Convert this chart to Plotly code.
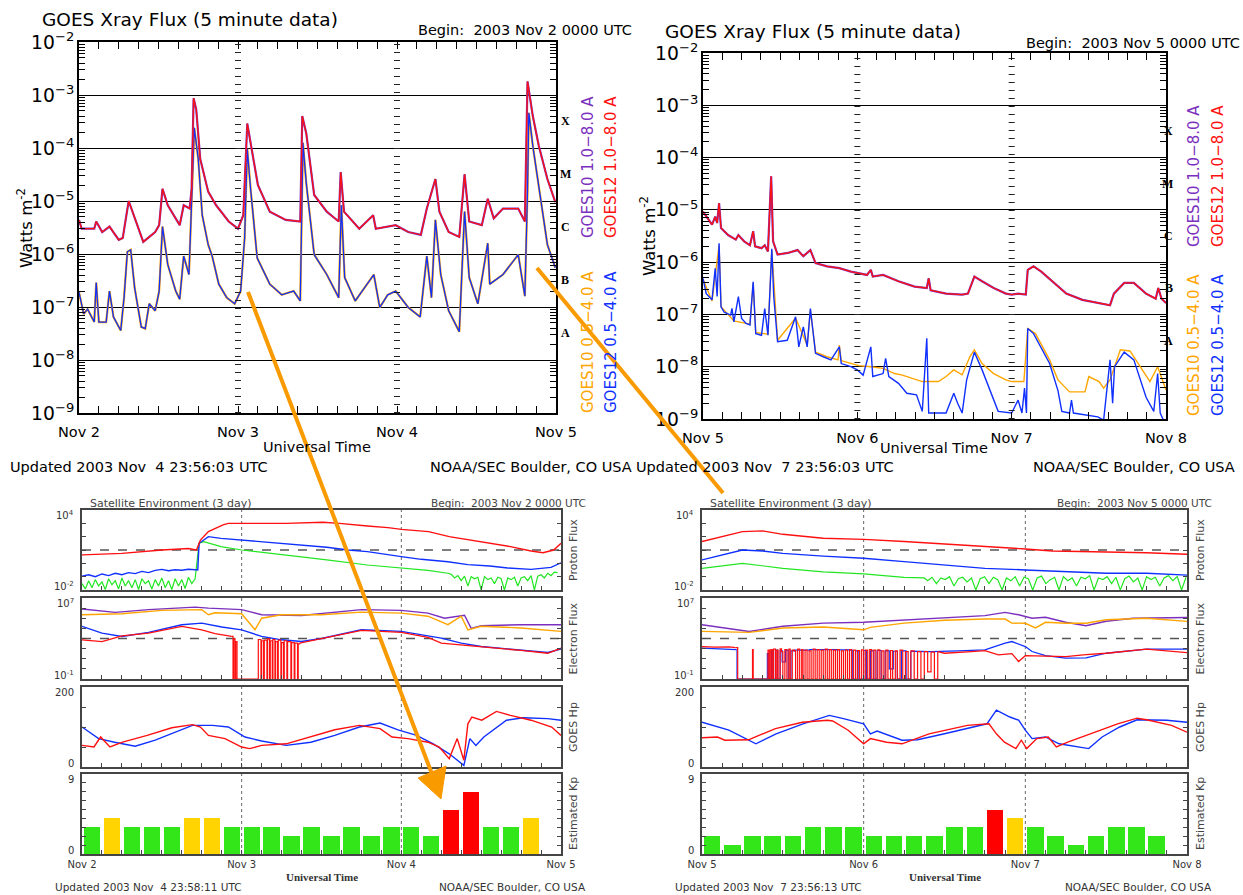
import numpy as np
import plotly.graph_objects as go

W, H = 1243, 895
FONT = "DejaVu Sans"
RED, BLUE, PURPLE, ORANGE, GREEN = "#FF1010", "#1030FF", "#7B2FBE", "#FFA500", "#22E622"
ARROW = "#F89A00"

# ================= GOES X-ray flux (hours since start of 3-day window) =================
# Nov 2-4 2003, long channel 1.0-8.0 A (GOES12; GOES10 overlaps it)
xl_long = [(0, 4.4e-6), (0.4, 3.0e-6), (2.3, 3.0e-6), (2.6, 4.1e-6), (3.5, 2.6e-6), (4.6, 3.3e-6), (6.0, 1.85e-6),
           (6.6, 2.0e-6), (7.5, 1.0e-5), (8.1, 6.3e-6), (9.7, 1.7e-6), (11.5, 2.6e-6), (12.1, 3.5e-6), (12.6, 1.7e-5),
           (13.4, 8.3e-6), (15.2, 3.5e-6), (15.8, 8.3e-6), (16.7, 7.2e-6), (17.0, 1.7e-5), (17.3, 8.7e-4),
           (17.7, 5.3e-4), (18.3, 6.2e-5), (19.5, 1.5e-5), (20.7, 8.3e-6), (22.6, 4.1e-6), (24.0, 3.0e-6),
           (24.8, 5.4e-6), (25.4, 2.9e-4), (26.0, 1.1e-4), (27.0, 2.0e-5), (28.8, 6.3e-6), (31.2, 4.4e-6),
           (33.4, 4.1e-6), (33.7, 4.0e-4), (34.3, 1.9e-4), (35.5, 1.3e-5), (37.4, 6.3e-6), (39.2, 4.1e-6),
           (39.5, 3.5e-5), (40.0, 6.3e-6), (42.3, 3.0e-6), (44.4, 5.4e-6), (44.8, 3.0e-6), (47.8, 3.5e-6),
           (49.7, 2.6e-6), (51.6, 2.3e-6), (52.5, 7.2e-6), (53.8, 2.6e-5), (54.4, 6.3e-6), (55.8, 2.6e-6),
           (57.4, 2.1e-6), (58.2, 3.2e-5), (58.9, 4.1e-6), (60.8, 3.5e-6), (61.7, 1.1e-5), (62.6, 4.7e-6),
           (64.0, 7.2e-6), (66.3, 7.2e-6), (67.3, 4.1e-6), (67.7, 1.8e-3), (68.5, 4.0e-4), (69.4, 1.1e-4),
           (70.7, 2.6e-5), (71.9, 9.5e-6)]
# short channel 0.5-4.0 A (GOES12; GOES10 overlaps it)
xl_short = [(0, 1.9e-7), (0.7, 7.4e-8), (1.3, 9.1e-8), (2.3, 5.2e-8), (2.6, 2.9e-7), (3.0, 5.2e-8), (4.1, 5.2e-8),
            (4.6, 2.0e-7), (5.2, 6.5e-8), (6.3, 3.6e-8), (6.8, 1.5e-7), (7.3, 1.1e-6), (7.8, 1.2e-6), (8.4, 2.3e-7),
            (9.4, 4.2e-8), (10.0, 3.9e-8), (10.6, 1.15e-7), (11.5, 8.5e-8), (12.1, 2.0e-7), (12.6, 3.3e-6),
            (13.4, 6.3e-7), (14.6, 2.0e-7), (15.2, 1.4e-7), (15.8, 9.1e-7), (16.6, 4.1e-7), (17.1, 1.5e-5),
            (17.4, 2.4e-4), (18.0, 6.2e-5), (18.6, 5.4e-6), (19.5, 1.5e-6), (20.1, 9.1e-7), (21.1, 2.7e-7),
            (22.3, 1.5e-7), (23.5, 1.15e-7), (24.4, 2.0e-7), (25.0, 2.0e-6), (25.4, 9.6e-5), (25.9, 1.7e-5),
            (26.9, 8.4e-7), (28.8, 2.7e-7), (30.6, 1.7e-7), (32.4, 2.0e-7), (33.4, 1.3e-7), (33.8, 1.26e-4),
            (34.3, 2.2e-5), (35.5, 9.7e-7), (37.4, 4.1e-7), (39.2, 1.5e-7), (39.6, 8.3e-6), (40.1, 3.6e-7),
            (41.7, 1.3e-7), (44.5, 4.1e-7), (45.4, 9.8e-8), (46.6, 1.7e-7), (47.8, 2.0e-7), (49.7, 9.8e-8),
            (51.5, 6.5e-8), (52.5, 9.1e-7), (53.2, 1.5e-7), (53.8, 4.4e-6), (54.6, 4.1e-7), (55.8, 8.5e-8),
            (57.4, 3.4e-8), (58.2, 6.3e-6), (58.9, 3.6e-7), (60.2, 1.15e-7), (61.7, 1.6e-6), (62.0, 2.7e-7),
            (64.0, 4.1e-7), (66.3, 9.7e-7), (67.3, 1.6e-7), (67.7, 1.5e-5), (67.9, 4.6e-4), (68.5, 1.1e-4),
            (69.4, 2.0e-5), (70.7, 1.5e-6), (71.9, 5.5e-7)]

# Nov 5-7 2003
xr_long = [(0, 9.3e-6), (0.5, 7.4e-6), (1.4, 5.2e-6), (1.9, 7.4e-6), (2.2, 5.6e-6), (2.5, 1.35e-5), (2.8, 4.5e-6),
           (3.9, 3.3e-6), (5.1, 2.7e-6), (5.5, 3.3e-6), (6.4, 2.5e-6), (7.3, 2.1e-6), (7.8, 3.9e-6), (8.1, 2.0e-6),
           (9.1, 1.85e-6), (9.6, 2.1e-6), (10.1, 1.6e-6), (10.6, 4.4e-5), (10.9, 2.5e-6), (11.6, 1.4e-6),
           (13.2, 1.5e-6), (14.7, 1.7e-6), (15.6, 1.3e-6), (16.7, 1.7e-6), (17.5, 9.6e-7), (19.3, 8.3e-7),
           (21.2, 7.7e-7), (23.0, 6.6e-7), (24.0, 6.2e-7), (25.5, 5.7e-7), (26.1, 7.1e-7), (26.4, 5.3e-7),
           (28.0, 5.7e-7), (29.2, 4.9e-7), (30.4, 4.3e-7), (32.9, 3.4e-7), (34.8, 3.2e-7), (35.1, 4.9e-7),
           (35.4, 2.9e-7), (37.8, 2.5e-7), (40.3, 2.4e-7), (41.2, 2.5e-7), (42.2, 5.3e-7), (43.4, 4.3e-7),
           (45.2, 3.2e-7), (47.1, 2.5e-7), (48.0, 2.4e-7), (49.0, 2.5e-7), (50.2, 2.4e-7), (50.5, 7.1e-7),
           (51.4, 8.3e-7), (52.6, 6.6e-7), (54.7, 4.0e-7), (56.5, 2.5e-7), (59.0, 1.9e-7), (61.5, 1.65e-7),
           (63.3, 1.5e-7), (63.9, 2.5e-7), (65.5, 4.0e-7), (67.0, 4.0e-7), (68.9, 2.5e-7), (70.4, 2.0e-7),
           (70.8, 3.2e-7), (71.3, 2.0e-7), (72.0, 1.65e-7)]
xr_short_g12 = [(0, 4.9e-7), (0.5, 2.5e-7), (1.4, 1.9e-7), (1.9, 7.6e-7), (2.2, 2.2e-7), (2.5, 2.3e-6), (2.8, 1.4e-7),
                (3.3, 1.1e-7), (4.3, 9.7e-8), (4.5, 1.3e-7), (4.8, 7.2e-8), (5.5, 2.2e-7), (6.0, 8.4e-8),
                (6.7, 6.7e-8), (7.3, 6.3e-8), (7.8, 4.2e-7), (8.2, 4.3e-8), (9.1, 4.0e-8), (9.6, 1.3e-7),
                (10.1, 4.0e-8), (10.7, 1.8e-6), (11.0, 2.2e-7), (11.6, 3.0e-8), (13.1, 3.2e-8), (14.4, 9.0e-8),
                (14.9, 2.4e-8), (15.6, 5.8e-8), (16.2, 2.4e-8), (16.7, 1.3e-7), (17.5, 1.8e-8), (18.7, 1.55e-8),
                (19.9, 1.35e-8), (21.2, 2.4e-8), (21.5, 1.15e-8), (23.0, 1.0e-8), (24.0, 8.7e-9), (24.9, 6.9e-9),
                (26.1, 2.4e-8), (26.4, 6.5e-9), (28.0, 7.4e-9), (28.4, 1.45e-8), (28.9, 6.5e-9), (30.4, 4.8e-9),
                (31.7, 3.1e-9), (33.2, 2.9e-9), (34.1, 1.4e-9), (34.8, 3.5e-8), (35.1, 1.3e-9), (37.8, 1.3e-9),
                (39.0, 3.1e-9), (39.6, 2.0e-9), (40.3, 1.3e-9), (41.0, 5.6e-9), (42.2, 1.9e-8), (43.4, 8.7e-9),
                (45.2, 2.3e-9), (45.9, 1.4e-9), (48.0, 1.3e-9), (49.0, 2.3e-9), (49.6, 1.3e-9), (50.0, 3.9e-9),
                (50.3, 1.3e-9), (50.5, 5.4e-8), (51.4, 4.3e-8), (53.9, 1.15e-8), (55.2, 3.5e-9), (55.8, 1.4e-9),
                (57.0, 1.3e-9), (57.3, 2.3e-9), (57.6, 1.3e-9), (61.4, 1.1e-9), (62.3, 9.5e-10), (63.3, 1.35e-8),
                (63.7, 2.0e-9), (64.0, 1.0e-8), (65.5, 1.9e-8), (67.0, 1.35e-8), (68.9, 2.6e-9), (70.1, 1.4e-9),
                (70.7, 7.4e-9), (71.1, 1.3e-9), (71.6, 9.5e-10)]
xr_short_g10 = [(0, 4.7e-7), (1.4, 1.8e-7), (2.5, 2.1e-6), (2.8, 1.4e-7), (4.8, 7.5e-8), (7.3, 6.5e-8), (7.8, 4.0e-7),
                (8.2, 4.5e-8), (10.1, 4.2e-8), (10.7, 1.7e-6), (11.6, 3.2e-8), (14.4, 8.5e-8), (16.2, 2.6e-8),
                (16.7, 1.2e-7), (17.5, 1.9e-8), (19.3, 1.55e-8), (21.0, 1.35e-8), (21.2, 2.6e-8), (21.5, 1.3e-8),
                (23.0, 1.15e-8), (24.2, 1.05e-8), (26.1, 1.0e-8), (28.0, 9.3e-9), (29.8, 7.4e-9), (31.0, 6.9e-9),
                (32.9, 5.8e-9), (34.1, 5.2e-9), (36.6, 5.2e-9), (37.8, 6.5e-9), (39.0, 8.7e-9), (40.3, 7.0e-9),
                (41.5, 1.55e-8), (42.2, 2.1e-8), (43.4, 1.15e-8), (45.2, 7.4e-9), (47.1, 5.6e-9), (48.0, 5.2e-9),
                (49.9, 5.2e-9), (50.5, 5.4e-8), (51.7, 4.3e-8), (53.9, 1.35e-8), (55.2, 5.6e-9), (57.0, 3.3e-9),
                (59.4, 3.3e-9), (60.0, 6.5e-9), (61.6, 5.2e-9), (62.3, 3.9e-9), (63.3, 5.6e-9), (64.9, 2.1e-8),
                (66.4, 2.0e-8), (68.3, 8.7e-9), (69.5, 5.2e-9), (70.7, 1.0e-8), (72.0, 3.6e-9)]

# ================= Satellite environment =================
# Proton flux (pfu) Nov 2-4
pl_red = [(0, 4.3), (6, 5.6), (12, 10), (16, 13), (17.2, 10), (17.8, 56), (19, 240), (21.2, 760), (22, 1000),
          (24, 1000), (30.7, 1000), (36.2, 1200), (38.7, 1000), (42.9, 630), (46, 480), (48, 350), (52.1, 240),
          (55.2, 100), (58.3, 56), (61.3, 32), (64.4, 18), (67.5, 8.5), (69.3, 6.3), (70.9, 10), (72, 32)]
pl_blue = [(0, 0.11), (1, 0.14), (2, 0.1), (3, 0.16), (4, 0.12), (5, 0.18), (6, 0.14), (7, 0.2), (8, 0.17),
           (9, 0.25), (10, 0.2), (11, 0.3), (12, 0.35), (13, 0.28), (14, 0.33), (15, 0.3), (16, 0.36), (17.4, 0.32),
           (17.6, 32), (19, 100), (20.9, 75), (24, 56), (27, 45), (30.7, 32), (33, 25), (36.8, 16), (40, 10),
           (42.9, 7.5), (48, 3.2), (51, 2.0), (55, 1.3), (58, 0.8), (61.3, 0.63), (64, 0.45), (67.5, 0.35),
           (70.5, 0.5), (72, 1.1)]
pl_green_quiet = [0.03, 0.012, 0.05, 0.015, 0.06, 0.02, 0.04, 0.011, 0.07, 0.025, 0.05, 0.012, 0.08, 0.02, 0.05,
                  0.015, 0.06, 0.011, 0.07, 0.03, 0.05, 0.012, 0.06, 0.02, 0.08, 0.015, 0.05, 0.011, 0.07, 0.02,
                  0.06, 0.013, 0.09, 0.03, 0.07]
pl_green_event = [(17.6, 32), (18.3, 42), (20.9, 18), (24, 10), (30.7, 4.2), (36.8, 1.8), (42.9, 0.75), (48, 0.42),
                  (52, 0.3), (55, 0.18)]
pl_green_tail = [0.15, 0.08, 0.12, 0.05, 0.11, 0.02, 0.1, 0.07, 0.09, 0.01, 0.1, 0.06, 0.08, 0.03, 0.09, 0.07, 0.01,
                 0.08, 0.06, 0.09, 0.02, 0.08, 0.1, 0.05, 0.12, 0.01, 0.11, 0.14, 0.08, 0.18, 0.12, 0.22, 0.2]
# Proton flux Nov 5-7
pr_red = [(0, 43), (6, 240), (9, 270), (12, 150), (18, 76), (24, 63), (30, 43), (36, 28), (42, 20), (48, 12),
          (52, 8.5), (60, 7.6), (66, 6.3), (72, 4.8)]
pr_blue = [(0, 1.8), (6, 10), (9, 8.5), (12, 5.6), (18, 3.5), (24, 2.4), (30, 1.35), (36, 0.74), (42, 0.42),
           (48, 0.32), (54, 0.23), (60, 0.18), (66, 0.18), (72, 0.13)]
pr_green_event = [(0, 0.42), (6, 1.0), (12, 0.42), (18, 0.23), (24, 0.16), (30, 0.09), (33, 0.08)]
pr_green_tail = [0.05, 0.09, 0.03, 0.08, 0.06, 0.1, 0.02, 0.07, 0.09, 0.04, 0.08, 0.01, 0.07, 0.1, 0.03, 0.09,
                 0.06, 0.01, 0.08, 0.05, 0.1, 0.02, 0.09, 0.07, 0.01, 0.08, 0.11, 0.03, 0.06, 0.09, 0.01, 0.1,
                 0.05, 0.08, 0.02, 0.09, 0.07, 0.12, 0.01, 0.08, 0.06, 0.1, 0.03, 0.09, 0.01, 0.07, 0.11, 0.04,
                 0.08, 0.01, 0.1, 0.06, 0.09, 0.02, 0.08, 0.12, 0.05, 0.1, 0.01, 0.09]

# Electron flux Nov 2-4
el_purple = [(0, 8.1e5), (5, 3.8e5), (10, 7.1e5), (17, 1.26e6), (19, 1.0e6), (24, 7.1e5), (27, 2.2e5), (33, 1.9e5),
             (42, 7.1e5), (48, 6.0e5), (52, 3.2e5), (54.5, 1.0e5), (57.5, 2.0e5), (58.5, 1.0e4), (60, 1.8e4),
             (66, 2.3e4), (72, 2.3e4)]
el_orange = [(0, 2.2e5), (6, 2.8e5), (12, 6.0e5), (18, 7.1e5), (19, 2.2e5), (20, 3.5e5), (24, 2.8e5), (25, 4.9e4),
             (26, 7.2e3), (27, 1.0e5), (30, 2.2e5), (36, 2.2e5), (42, 4.0e5), (48, 3.2e5), (52, 1.6e5),
             (55, 2.3e4), (57, 1.6e5), (58, 7.2e3), (60, 1.6e4), (66, 1.1e4), (72, 5.0e3)]
el_blue = [(0, 1.6e4), (3, 3.4e3), (6, 1.6e3), (10, 4.0e3), (15, 2.3e4), (18, 3.3e4), (21, 1.35e4), (24, 7.2e3),
           (27, 1.6e3), (30, 740), (33, 500), (36, 1000), (42, 7.2e3), (48, 5.0e3), (54, 1.1e3), (57, 350),
           (60, 160), (66, 76), (70, 42), (72, 89)]
el_red_pre = [(0, 740), (3, 500), (6, 1860), (10, 3400), (15, 1.6e4), (18, 7200), (20, 3000), (22.5, 1600)]
el_red_gap = [(22.5, 1600), (22.7, 0.1), (22.8, 900), (23.0, 0.1), (23.1, 500), (23.3, 0.1), (26.4, 0.1),
              (26.5, 800), (26.9, 0.1), (27.0, 600), (27.3, 0.1), (27.4, 700), (27.8, 0.1), (27.9, 900), (28.2, 0.1),
              (28.3, 600), (28.6, 0.1), (28.7, 800), (29.0, 0.1), (29.1, 500), (29.4, 0.1), (29.5, 700), (29.9, 0.1),
              (30.0, 400), (30.3, 0.1), (30.4, 600), (30.8, 0.1), (30.9, 500), (31.4, 0.1), (31.5, 400), (31.9, 0.1),
              (32.0, 350), (32.4, 0.1), (32.5, 300), (32.7, 350)]
el_red_post = [(32.7, 350), (36, 1000), (42, 6300), (48, 4000), (52, 1260), (54, 350), (60, 160), (66, 66),
               (70, 35), (72, 110)]
# Electron flux Nov 5-7
er_purple = [(0, 2.3e4), (7, 5.0e3), (12, 1.6e4), (18, 3.3e4), (24, 4.0e4), (30, 6.3e4), (36, 1.0e5), (42, 1.8e5),
             (45, 3.8e5), (47, 2.2e5), (49, 1.0e5), (51, 1.26e5), (54, 4.0e4), (57, 1.8e4), (60, 5.0e4),
             (64, 1.0e5), (72, 1.2e5)]
er_orange = [(0, 5.0e3), (7, 4.0e3), (12, 1.1e4), (18, 1.35e4), (24, 7.2e3), (25, 1.26e4), (30, 3.3e4), (36, 6.3e4),
             (42, 8.3e4), (45, 8.3e4), (46, 3.3e4), (48, 3.2e4), (49.5, 1.1e4), (51, 4.0e4), (54, 3.2e4),
             (57, 3.2e4), (60, 7.1e4), (66, 1.0e5), (72, 4.9e4)]
er_blue_pre = [(0, 110), (2, 100), (4, 89), (5.1, 79)]
er_blue_gap = [(5.1, 79), (5.2, 0.1), (9.5, 0.1), (9.7, 32), (9.9, 0.1), (10.3, 60), (10.5, 0.1), (10.9, 70),
               (11.2, 0.1), (11.6, 65), (11.9, 5), (12.4, 70), (12.8, 0.1), (13.2, 60), (13.7, 70), (16, 80),
               (20, 75), (22, 70), (22.3, 0.1), (22.8, 60), (23.3, 0.1), (24, 65), (24.4, 0.1), (25, 60),
               (25.5, 0.1), (26, 65), (26.6, 0.1), (27.2, 60), (27.8, 1), (28.4, 55), (29, 0.1), (29.6, 60),
               (30.3, 0.1), (31, 55)]
er_blue_post = [(31, 55), (34, 50), (38, 60), (42, 76), (45, 350), (46, 500), (48, 160), (49, 52), (51, 20),
                (54, 11.5), (57, 12), (60, 35), (66, 89), (72, 89)]
er_red_pre = [(0, 160), (2, 140), (4, 150), (5, 126)]
er_red_gap = [(5, 126), (5.3, 0.1), (7.4, 0.1), (7.5, 80), (7.6, 0.1), (9.7, 0.1),
              (9.8, 70), (10.0, 0.1), (10.2, 80), (10.4, 0.1), (10.6, 90), (10.9, 0.1), (11.1, 70), (11.3, 0.1),
              (11.6, 95), (11.8, 50), (12.0, 0.1), (12.3, 80), (12.6, 0.1), (12.9, 90), (13.1, 0.1), (13.4, 70),
              (13.7, 60), (13.9, 0.1), (14.2, 90), (14.5, 0.1), (14.8, 80), (15.0, 0.1), (15.3, 70), (15.6, 0.1),
              (15.9, 60), (16.2, 0.1), (16.5, 90), (16.8, 0.1), (17.1, 80), (17.4, 0.1), (17.7, 70), (18.0, 0.1),
              (18.3, 90), (18.6, 0.1), (18.9, 80), (19.2, 0.1), (19.5, 70), (19.8, 0.1), (20.1, 80), (20.4, 0.1),
              (20.7, 60), (21.0, 0.1), (21.3, 70), (21.6, 0.1), (21.9, 80), (22.2, 0.1), (22.5, 70), (22.8, 0.1),
              (23.1, 65), (23.4, 0.1), (23.7, 75), (24.0, 0.1), (24.3, 70), (24.6, 0.1), (24.9, 80), (25.2, 0.1),
              (25.5, 70), (25.8, 0.1), (26.1, 75), (26.4, 0.1), (26.7, 60), (27.0, 0.1), (27.3, 70), (27.6, 0.1),
              (28.0, 65), (28.3, 0.1), (28.7, 60), (29.0, 0.1), (29.4, 70), (29.8, 0.1), (30.2, 50), (30.6, 0.1),
              (31.0, 60), (31.5, 0.1), (32.0, 50), (32.5, 0.1), (33.0, 50), (33.5, 0.5), (34.0, 45), (34.5, 0.1),
              (35.0, 50)]
er_red_post = [(35.0, 50), (36, 35), (40, 50), (42, 63), (44, 24), (46, 32), (47, 5.4), (48, 20), (51, 18),
               (54, 16), (57, 25), (60, 35), (66, 89), (69, 60), (72, 40)]

# GOES Hp (nT)
hl_blue = [(0, 100), (2.5, 71), (4.9, 62), (8, 52), (11, 67), (13.5, 83), (16.6, 104), (19.6, 104), (22, 100),
           (24.5, 75), (27, 65), (30.7, 54), (34.4, 62), (38, 79), (41.7, 100), (44.8, 110), (47.5, 93),
           (50.3, 79), (52.8, 58), (55.2, 33), (57.4, 4), (58.3, 71), (59.2, 54), (60.4, 75), (63.8, 117),
           (66.3, 123), (70, 121), (72, 117)]
hl_red = [(0, 54), (1.8, 50), (2.8, 75), (4.2, 50), (6.1, 62), (9.8, 79), (13.5, 98), (16.6, 106), (17.8, 100),
          (19, 79), (21.5, 71), (24, 50), (25.2, 46), (27, 54), (30.7, 58), (34.4, 75), (38, 93), (41.7, 104),
          (44.8, 96), (46.6, 75), (49, 71), (52, 62), (53.7, 50), (55.2, 21), (56.4, 71), (57.4, 17), (58, 108),
          (58.6, 125), (60.1, 117), (62.3, 139), (64.4, 129), (67.5, 117), (70.6, 100), (72, 79)]
hr_blue = [(0, 112), (4, 92), (8, 58), (11, 83), (15, 108), (18.9, 129), (21, 121), (24, 108), (25, 83), (26, 90),
           (29.7, 67), (32, 68), (36, 83), (40, 100), (42.3, 108), (43.7, 142), (45.7, 125), (47, 117), (48, 92),
           (49, 71), (51, 75), (53, 58), (55, 52), (57.4, 46), (59.4, 75), (62, 100), (64.6, 118), (69, 117),
           (72, 112)]
hr_red = [(0, 73), (2.3, 75), (3.4, 67), (6.9, 68), (10.9, 96), (14.9, 112), (18.6, 117), (19.4, 115),
          (21.7, 92), (24, 58), (25, 71), (27.4, 62), (29.7, 58), (33.7, 83), (39.4, 104), (42.6, 108),
          (43.7, 83), (44.9, 62), (46.6, 46), (47.4, 67), (48.2, 46), (49.7, 71), (51.4, 75), (52.6, 50),
          (54.3, 62), (57.7, 83), (61.7, 108), (64.6, 122), (66, 118), (69.7, 104), (72, 87)]

# Estimated Kp (3-hour bins)
kp_left = [3, 4, 3, 3, 3, 4, 4, 3, 3, 3, 2, 3, 2, 3, 2, 3, 3, 2, 5, 7, 3, 3, 4]
kp_right = [2, 1, 2, 2, 2, 3, 3, 3, 2, 2, 2, 2, 3, 3, 5, 4, 3, 2, 1, 2, 3, 3, 2]

days_left = ["Nov 2", "Nov 3", "Nov 4", "Nov 5"]
days_right = ["Nov 5", "Nov 6", "Nov 7", "Nov 8"]
day_hours = [0, 24, 48, 72]
letters = [("X", -3.5), ("M", -4.5), ("C", -5.5), ("B", -6.5), ("A", -7.5)]
# end labels of the satellite panels (top, bottom)
sat_end_labels = [("10<sup>4</sup>", "10<sup>-2</sup>"), ("10<sup>7</sup>", "10<sup>-1</sup>"),
                  ("200", "0"), ("9", "0")]


def unz(pairs):
    t, v = zip(*pairs)
    return list(t), list(v)


def ref(n, c):
    return c if n == 1 else f"{c}{n}"


def axn(n, c):
    return f"{c}axis" if n == 1 else f"{c}axis{n}"


def dx(a, b):
    return [a / W, b / W]


def dy(top, bot):
    return [1 - bot / H, 1 - top / H]


fig = go.Figure()
layout = {}
shapes = []
annotations = []


def line(n, pairs, color, width=1.3, shape="linear"):
    t, v = unz(pairs)
    fig.add_trace(go.Scatter(x=t, y=v, mode="lines", line=dict(color=color, width=width, shape=shape),
                             xaxis=ref(n, "x"), yaxis=ref(n, "y"), showlegend=False, hoverinfo="skip"))


def txt(x, y, s, size, color="black", xanchor="center", angle=0, family=FONT):
    annotations.append(dict(x=x / W, y=1 - y / H, xref="paper", yref="paper", text=s, showarrow=False,
                            xanchor=xanchor, yanchor="middle", textangle=angle,
                            font=dict(family=family, size=size, color=color)))


# ---------------- X-ray panels ----------------
xray_boxes = {1: (79, 556, 42, 413), 2: (703, 1166, 53, 419)}
for n, days in [(1, days_left), (2, days_right)]:
    x0, x1, y0, y1 = xray_boxes[n]
    layout[axn(n, "x")] = dict(domain=dx(x0, x1), anchor=ref(n, "y"), range=[0, 72], tickmode="array",
                               tickvals=day_hours, ticktext=days,
                               ticks="inside", ticklen=7, tickcolor="black", mirror="allticks", showline=True,
                               minor=dict(tickmode="linear", tick0=0, dtick=3, ticks="inside", ticklen=7,
                                          tickcolor="black", showgrid=False),
                               linecolor="black", linewidth=1.5, showgrid=False, zeroline=False, automargin=False,
                               ticklabelstandoff=5, tickfont=dict(family=FONT, size=14.5, color="black"))
    layout[axn(n, "y")] = dict(domain=dy(y0, y1), anchor=ref(n, "x"), type="log", range=[-9, -2], dtick=1,
                               exponentformat="power", showexponent="all", ticks="inside", ticklen=10,
                               tickcolor="black", mirror="allticks", showline=True, linecolor="black",
                               linewidth=1.5, showgrid=True, gridcolor="black", gridwidth=1, automargin=False,
                               minor=dict(ticks="inside", ticklen=6, tickcolor="black", showgrid=False),
                               tickfont=dict(family=FONT, size=15, color="black"))
    for d in (24, 48):
        shapes.append(dict(type="line", xref=ref(n, "x"), yref=f"{ref(n, 'y')} domain", x0=d, x1=d, y0=0, y1=1,
                           line=dict(color="#222", width=6, dash="1px,7px"), layer="above"))
    for lab, lv in letters:
        annotations.append(dict(x=(x1 + 9) / W, xref="paper", y=lv, yref=ref(n, "y"), text=f"<b>{lab}</b>",
                                showarrow=False, font=dict(family="Liberation Serif", size=12, color="black")))

line(1, xl_short, ORANGE, 2.2)
line(1, xl_short, BLUE, 1.3)
line(1, xl_long, PURPLE, 2.2)
line(1, xl_long, RED, 1.3)
line(2, xr_short_g10, ORANGE, 1.4)
line(2, xr_short_g12, BLUE, 1.4)
line(2, xr_long, PURPLE, 2.2)
line(2, xr_long, RED, 1.3)

# X-ray texts
txt(40, 20, "GOES Xray Flux (5 minute data)", 18.5, xanchor="left")
txt(634, 30, "Begin:&nbsp;&nbsp;2003 Nov 2 0000 UTC", 14.5, xanchor="right")
txt(25, 228, "Watts m<sup>-2</sup>", 16.5, angle=-90)
txt(317, 447, "Universal Time", 14.5)
txt(588, 167, "GOES10 1.0−8.0 A", 15, PURPLE, angle=-90)
txt(611, 167, "GOES12 1.0−8.0 A", 15, RED, angle=-90)
txt(588, 342, "GOES10 0.5−4.0 A", 15, ORANGE, angle=-90)
txt(611, 342, "GOES12 0.5−4.0 A", 15, BLUE, angle=-90)
txt(8, 467, "Updated 2003 Nov&nbsp;&nbsp;4 23:56:03 UTC", 14.5, xanchor="left")
txt(634, 467, "NOAA/SEC Boulder, CO USA", 14.5, xanchor="right")

txt(663, 31, "GOES Xray Flux (5 minute data)", 18.5, xanchor="left")
txt(1242, 43, "Begin:&nbsp;&nbsp;2003 Nov 5 0000 UTC", 14.5, xanchor="right")
txt(648, 236, "Watts m<sup>-2</sup>", 16.5, angle=-90)
txt(934, 448, "Universal Time", 14.5)
txt(1194, 176, "GOES10 1.0−8.0 A", 15, PURPLE, angle=-90)
txt(1218, 176, "GOES12 1.0−8.0 A", 15, RED, angle=-90)
txt(1194, 345, "GOES10 0.5−4.0 A", 15, ORANGE, angle=-90)
txt(1218, 345, "GOES12 0.5−4.0 A", 15, BLUE, angle=-90)
txt(634, 467, "Updated 2003 Nov&nbsp;&nbsp;7 23:56:03 UTC", 14.5, xanchor="left")
txt(1237, 467, "NOAA/SEC Boulder, CO USA", 14.5, xanchor="right")

# ---------------- Satellite environment panels ----------------
GR = "#444444"
rows = [(510, 590), (598, 679), (687, 767), (774, 854)]
sides = {"L": (82, 561, 3, days_left), "R": (702, 1187, 7, days_right)}
ydefs = [
    dict(type="log", range=[-2, 4], tickvals=[1e-2, 1e-1, 1, 10, 100, 1e3, 1e4]),
    dict(type="log", range=[-1, 7], tickvals=[1e-1, 1, 10, 100, 1e3, 1e4, 1e5, 1e6, 1e7]),
    dict(type="linear", range=[0, 200], tickvals=[0, 50, 100, 150, 200]),
    dict(type="linear", range=[0, 9], tickvals=list(range(10))),
]
for side, (x0, x1, n0, days) in sides.items():
    for i, (t0, t1) in enumerate(rows):
        n = n0 + i
        lab = (i == 3)
        layout[axn(n, "x")] = dict(domain=dx(x0, x1), anchor=ref(n, "y"), range=[0, 72], tickmode="array",
                                   tickvals=day_hours, ticktext=days, showticklabels=lab,
                                   ticks="inside", ticklen=4, tickcolor=GR, showline=True, linecolor=GR,
                                   minor=dict(tickmode="linear", tick0=0, dtick=3, ticks="inside", ticklen=4,
                                              tickcolor=GR, showgrid=False),
                                   linewidth=2, mirror=True, showgrid=False, zeroline=False, automargin=False,
                                   tickfont=dict(family=FONT, size=10, color="#333"))
        yd = dict(ydefs[i])
        yd.update(domain=dy(t0, t1), anchor=ref(n, "x"), tickmode="array", ticks="inside", ticklen=4,
                  showticklabels=False, tickcolor=GR, showline=True, linecolor=GR, linewidth=2,
                  mirror="allticks", showgrid=False, zeroline=False, automargin=False)
        layout[axn(n, "y")] = yd
        top_lab, bot_lab = sat_end_labels[i]
        txt(x0 - 6, t0 + 5, top_lab, 10, "#333", xanchor="right")
        txt(x0 - 6, t1 - 4, bot_lab, 10, "#333", xanchor="right")
        for d in (24, 48):
            shapes.append(dict(type="line", xref=ref(n, "x"), yref=f"{ref(n, 'y')} domain", x0=d, x1=d, y0=0,
                               y1=1, line=dict(color="#666", width=1, dash="dot"), layer="below"))

# threshold lines
for n in (3, 7):
    fig.add_trace(go.Scatter(x=[0, 72], y=[10, 10], mode="lines", line=dict(color="#555", width=1.5, dash="dash"),
                             xaxis=ref(n, "x"), yaxis=ref(n, "y"), showlegend=False, hoverinfo="skip"))
for n in (4, 8):
    fig.add_trace(go.Scatter(x=[0, 72], y=[1000, 1000], mode="lines",
                             line=dict(color="#555", width=1.5, dash="dash"),
                             xaxis=ref(n, "x"), yaxis=ref(n, "y"), showlegend=False, hoverinfo="skip"))

# proton left
ql_t = list(np.arange(len(pl_green_quiet)) * 0.5)
line(3, list(zip(ql_t, pl_green_quiet)) + pl_green_event +
     list(zip(list(55.5 + np.arange(len(pl_green_tail)) * 0.5), pl_green_tail)), GREEN, 1.2)
line(3, pl_blue, BLUE, 1.4)
line(3, pl_red, RED, 1.4)
# proton right
line(7, pr_green_event + list(zip(list(33.5 + np.arange(len(pr_green_tail)) * 0.65), pr_green_tail)), GREEN, 1.2)
line(7, pr_blue, BLUE, 1.4)
line(7, pr_red, RED, 1.4)
# electron
line(4, el_purple, PURPLE, 1.4)
line(4, el_orange, ORANGE, 1.4)
line(4, el_blue, BLUE, 1.4)
line(4, el_red_pre, RED, 1.3)
line(4, el_red_gap, RED, 1.2, "hv")
line(4, el_red_post, RED, 1.3)
line(8, er_purple, PURPLE, 1.4)
line(8, er_orange, ORANGE, 1.4)
line(8, er_blue_pre, BLUE, 1.3)
line(8, er_blue_gap, BLUE, 1.2, "hv")
line(8, er_blue_post, BLUE, 1.3)
line(8, er_red_pre, RED, 1.3)
line(8, er_red_gap, RED, 1.2, "hv")
line(8, er_red_post, RED, 1.3)
# Hp
line(5, hl_blue, BLUE, 1.4)
line(5, hl_red, RED, 1.4)
line(9, hr_blue, BLUE, 1.4)
line(9, hr_red, RED, 1.4)


# Kp
def kp_color(k):
    return "#FF0000" if k >= 5 else ("#FFD400" if k == 4 else "#33E61A")


for n, kp in [(6, kp_left), (10, kp_right)]:
    fig.add_trace(go.Bar(x=[1.5 + 3 * i for i in range(len(kp))], y=kp, width=2.45,
                         marker=dict(color=[kp_color(k) for k in kp], line=dict(width=0)),
                         xaxis=ref(n, "x"), yaxis=ref(n, "y"), showlegend=False, hoverinfo="skip"))

# satellite texts
for (x0, x1, n0, days), title, begin, upd, rx in [
        (sides["L"], "Satellite Environment (3 day)", "Begin:&nbsp;&nbsp;2003 Nov 2 0000 UTC",
         "Updated 2003 Nov&nbsp;&nbsp;4 23:58:11 UTC", 573),
        (sides["R"], "Satellite Environment (3 day)", "Begin:&nbsp;&nbsp;2003 Nov 5 0000 UTC",
         "Updated 2003 Nov&nbsp;&nbsp;7 23:56:13 UTC", 1200)]:
    txt(x0 + 6, 503, title, 11, "#444", xanchor="left")
    txt(x1 + 27, 503, begin, 10.5, "#444", xanchor="right")
    for (t0, t1), lab in zip(rows, ["Proton Flux", "Electron Flux", "GOES Hp", "Estimated Kp"]):
        txt(rx, (t0 + t1) / 2, lab, 11, "#444", angle=-90)
    txt((x0 + x1) / 2, 877, "<b>Universal Time</b>", 11, "#333", family="Liberation Serif")
    txt(x0 - 29, 887, upd, 10.5, "#333", xanchor="left")
    txt(x1 + 27, 887, "NOAA/SEC Boulder, CO USA", 10.5, "#333", xanchor="right")


# orange arrows linking flares to satellite environment (paper pixel coords)
def P(x, y):
    return x / W, 1 - y / H


for (a, b), (c, d) in [((248, 292), (432, 774)), ((537, 268), (723, 493))]:
    xa, ya = P(a, b)
    xb, yb = P(c, d)
    shapes.append(dict(type="line", xref="paper", yref="paper", x0=xa, y0=ya, x1=xb, y1=yb,
                       line=dict(color=ARROW, width=4), layer="above"))
pts = [P(418, 778), P(446, 766), P(441, 799)]
shapes.append(dict(type="path", xref="paper", yref="paper",
                   path="M {} {} L {} {} L {} {} Z".format(*[c for p in pts for c in p]),
                   fillcolor=ARROW, line=dict(color=ARROW, width=1), layer="above"))

fig.update_layout(width=W, height=H, autosize=False, margin=dict(l=0, r=0, t=0, b=0, pad=0),
                  paper_bgcolor="white", plot_bgcolor="white", showlegend=False, bargap=0,
                  shapes=shapes, annotations=annotations, **layout)
# remove the page's default 8px body margin so the figure sits at the window's top-left corner
fig.write_html("out.html", config={"displayModeBar": False},
               post_script="document.body.style.margin='0px';document.body.style.overflow='hidden';")
